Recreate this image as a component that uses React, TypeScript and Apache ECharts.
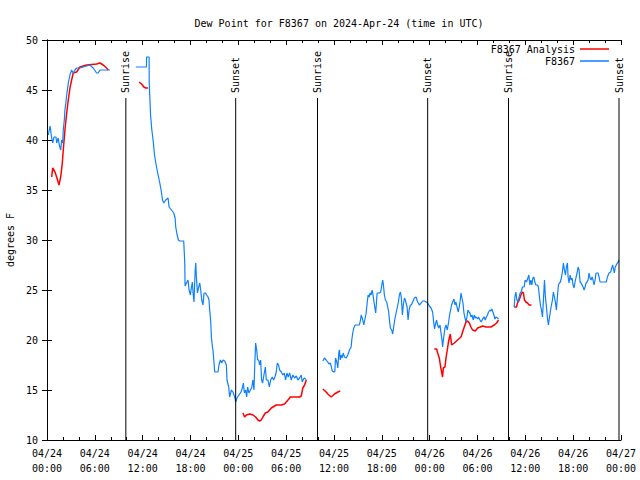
import React, { useEffect, useRef } from "react";
import * as echarts from "echarts";

// Time is in hours since 2024-04-24 00:00 UTC; values in degrees F.
const blueSeg1: [number, number][] = [
  [0.16, 40.5], [0.38, 41.4], [0.59, 40.2], [0.71, 39.7], [0.88, 40.3], [1.13, 40.3], [1.21, 39.7],
  [1.41, 40.2], [1.54, 39.5], [1.72, 39.0], [1.84, 40.0], [1.97, 39.7], [2.04, 41.0], [2.17, 42.0],
  [2.25, 43.0], [2.38, 43.8], [2.47, 44.5], [2.67, 45.7], [2.88, 46.5], [3.09, 47.0], [3.29, 46.7],
  [3.51, 47.0], [3.72, 47.2], [4.13, 47.2], [4.55, 47.3], [4.97, 47.4], [5.38, 47.5], [5.8, 47.2],
  [6.22, 46.7], [6.42, 46.7], [6.64, 47.0], [7.89, 47.0],
];
const blueSeg2: [number, number][] = [
  [11.14, 47.3], [12.48, 47.3], [12.49, 48.3], [12.81, 48.3], [12.82, 45.8], [12.99, 42.5], [13.15, 41.0],
  [13.31, 40.0], [13.49, 38.5], [13.65, 37.7], [13.81, 37.0], [13.99, 36.3], [14.15, 35.7], [14.31, 35.0],
  [14.49, 34.0], [14.65, 33.7], [14.9, 34.0], [15.19, 34.2], [15.31, 33.3], [15.61, 33.0], [15.9, 32.7],
  [16.07, 32.2], [16.15, 31.3], [16.32, 30.5], [16.49, 30.0], [16.65, 29.9], [17.15, 29.9], [17.28, 27.7],
  [17.32, 25.4], [17.49, 25.7], [17.69, 26.0], [17.82, 25.0], [17.99, 24.5], [18.12, 25.3], [18.24, 25.8],
  [18.32, 24.7], [18.44, 23.8], [18.57, 26.7], [18.66, 27.7], [18.74, 26.3], [18.87, 24.7], [19.03, 25.3],
  [19.16, 25.7], [19.28, 25.0], [19.41, 24.0], [19.57, 23.5], [19.7, 24.7], [19.87, 24.7], [20.03, 24.5],
  [20.2, 24.3], [20.32, 24.0], [20.41, 23.0], [20.54, 21.8], [20.62, 20.3], [20.75, 19.3], [20.82, 19.0],
  [21.04, 16.8], [21.45, 16.8], [21.57, 17.5], [21.75, 18.0], [21.91, 17.7], [22.08, 18.0], [22.29, 17.9],
  [22.5, 17.5], [22.58, 16.0], [22.79, 15.3], [22.91, 14.3], [23.13, 15.0], [23.33, 14.8], [23.54, 14.3],
  [23.67, 13.8], [23.83, 14.2], [24.08, 14.5], [24.33, 14.8], [24.51, 15.2], [24.63, 15.7], [24.76, 14.7],
  [24.92, 15.0], [25.04, 14.3], [25.17, 15.3], [25.33, 14.7], [25.51, 15.0], [25.67, 15.2], [25.83, 16.0],
  [25.96, 15.0], [26.05, 17.3], [26.17, 19.7], [26.3, 19.0], [26.42, 18.0], [26.55, 18.0], [26.67, 17.5],
  [26.8, 18.0], [26.92, 16.0], [27.05, 15.7], [27.21, 16.5], [27.39, 17.3], [27.51, 16.0], [27.71, 16.0],
  [27.89, 15.3], [28.05, 16.0], [28.26, 16.3], [28.42, 16.0], [28.59, 16.3], [28.76, 16.8], [28.89, 17.7],
  [29.05, 17.5], [29.18, 17.0], [29.39, 16.8], [29.59, 16.5], [29.76, 16.7], [29.93, 16.0], [30.09, 16.7],
  [30.26, 16.3], [30.43, 16.7], [30.64, 16.0], [30.84, 16.5], [31.05, 16.2], [31.27, 16.4], [31.47, 16.0],
  [31.68, 16.2], [31.89, 16.5], [32.02, 15.8], [32.18, 16.1], [32.34, 16.2], [32.52, 16.0],
];
const blueSeg3: [number, number][] = [
  [34.6, 17.9], [34.81, 18.2], [35.02, 18.0], [35.22, 17.8], [35.35, 17.6], [35.52, 17.7], [35.65, 17.4],
  [35.77, 16.9], [35.98, 16.8], [36.1, 16.8], [36.19, 18.2], [36.35, 17.8], [36.48, 17.2], [36.6, 18.7],
  [36.69, 19.0], [36.78, 18.0], [36.9, 18.5], [37.03, 18.2], [37.15, 18.7], [37.32, 18.3], [37.53, 18.2],
  [37.73, 18.5], [37.94, 19.0], [38.15, 19.3], [38.23, 20.0], [38.35, 20.7], [38.48, 21.2], [38.65, 21.5],
  [38.98, 21.5], [39.19, 21.5], [39.32, 22.0], [39.41, 22.5], [39.53, 22.2], [39.61, 22.0], [39.73, 21.5],
  [39.86, 22.0], [40.03, 22.7], [40.16, 23.7], [40.28, 24.5], [40.41, 24.3], [40.53, 24.7], [40.66, 24.5],
  [40.78, 25.0], [40.86, 24.7], [40.98, 24.0], [41.11, 23.3], [41.23, 22.7], [41.32, 23.7], [41.41, 24.7],
  [41.57, 24.7], [41.7, 24.7], [41.86, 24.8], [41.99, 25.5], [42.11, 26.0], [42.2, 25.5], [42.32, 24.5],
  [42.45, 24.0], [42.61, 23.8], [42.74, 23.3], [42.86, 22.8], [42.95, 22.0], [43.07, 21.2], [43.24, 21.0],
  [43.36, 20.6], [43.49, 21.3], [43.61, 22.0], [43.79, 22.7], [43.95, 23.3], [44.08, 23.8], [44.2, 24.5],
  [44.33, 24.8], [44.45, 24.2], [44.58, 22.5], [44.7, 23.5], [44.83, 24.2], [44.95, 24.0], [45.04, 23.7],
  [45.17, 23.3], [45.29, 22.0], [45.42, 23.0], [45.58, 23.5], [45.7, 23.5], [45.87, 23.8], [46.08, 24.2],
  [46.29, 24.3], [46.49, 23.8], [46.71, 23.5], [46.92, 23.7], [47.12, 23.9], [47.33, 23.9], [47.55, 23.8],
  [47.75, 23.7], [47.96, 23.4], [48.17, 23.2], [48.37, 22.8], [48.5, 21.8], [48.62, 21.1], [48.71, 21.5],
  [48.87, 22.0], [49.0, 21.5], [49.12, 21.2], [49.3, 21.5], [49.42, 20.7], [49.55, 20.0], [49.62, 19.3],
  [49.75, 20.2], [49.92, 21.2], [50.05, 21.5], [50.21, 21.0], [50.38, 21.8], [50.5, 22.5], [50.63, 23.0],
  [50.75, 23.5], [50.88, 23.8], [51.05, 24.1], [51.18, 23.5], [51.3, 23.8], [51.43, 23.3], [51.59, 22.8],
  [51.71, 23.3], [51.84, 24.0], [51.93, 24.7], [52.05, 24.2], [52.18, 23.7], [52.3, 22.7], [52.43, 22.2],
  [52.55, 21.8], [52.68, 22.3], [52.8, 23.0], [52.93, 22.8], [53.05, 22.7], [53.18, 22.3], [53.31, 22.5],
  [53.47, 22.0], [53.59, 22.5], [53.72, 22.2], [53.84, 22.3], [54.01, 22.1], [54.13, 22.3], [54.31, 22.0],
  [54.47, 21.8], [54.63, 22.1], [54.85, 22.3], [54.97, 22.0], [55.1, 22.3], [55.26, 22.5], [55.38, 22.8],
  [55.56, 23.0], [55.68, 22.9], [55.81, 23.1], [55.93, 22.8], [56.06, 22.5], [56.18, 22.1], [56.31, 22.3],
  [56.51, 22.2], [56.64, 22.1],
];
const blueSeg4: [number, number][] = [
  [58.6, 23.3], [58.69, 24.3], [58.81, 24.8], [58.94, 24.0], [59.06, 23.8], [59.23, 24.3], [59.35, 24.7],
  [59.48, 24.8], [59.64, 25.3], [59.85, 25.3], [59.98, 26.0], [60.14, 25.8], [60.32, 26.2], [60.44, 26.5],
  [60.57, 25.5], [60.69, 26.0], [60.82, 25.5], [60.94, 26.2], [61.07, 26.3], [61.19, 25.8], [61.32, 25.5],
  [61.52, 25.5], [61.64, 25.3], [61.77, 24.3], [61.89, 23.5], [62.02, 23.0], [62.15, 22.3], [62.27, 24.0],
  [62.4, 26.0], [62.52, 24.3], [62.65, 23.3], [62.77, 22.2], [62.9, 21.5], [62.98, 22.0], [63.11, 22.7],
  [63.23, 23.3], [63.4, 24.0], [63.52, 24.8], [63.65, 24.3], [63.77, 23.8], [63.9, 23.0], [64.02, 24.3],
  [64.15, 25.5], [64.27, 25.7], [64.4, 25.8], [64.52, 26.2], [64.65, 26.8], [64.78, 27.7], [64.9, 27.0],
  [65.03, 26.5], [65.15, 27.3], [65.28, 27.7], [65.36, 26.3], [65.49, 25.7], [65.61, 26.5], [65.74, 26.0],
  [65.86, 26.2], [65.99, 25.5], [66.11, 25.2], [66.24, 25.8], [66.37, 26.3], [66.49, 26.7], [66.62, 27.3],
  [66.74, 27.0], [66.87, 25.8], [66.99, 25.7], [67.12, 25.5], [67.24, 25.3], [67.37, 25.0], [67.49, 25.3],
  [67.62, 25.7], [67.74, 25.8], [67.87, 26.0], [67.99, 26.7], [68.12, 26.2], [68.24, 26.0], [68.37, 26.3],
  [68.49, 26.0], [68.62, 25.5], [68.75, 26.0], [68.87, 26.7], [69.0, 26.7], [69.12, 26.7], [69.25, 26.3],
  [69.37, 25.8], [70.0, 25.8], [70.16, 25.8], [70.29, 26.3], [70.5, 26.7], [70.71, 26.8], [70.83, 27.2],
  [70.96, 27.5], [71.09, 27.0], [71.16, 26.7], [71.29, 27.3], [71.41, 27.5], [71.54, 27.7], [71.66, 27.8],
  [71.75, 28.0],
];

const redSeg1: [number, number][] = [
  [0.59, 36.3], [0.71, 37.2], [1.0, 36.8], [1.21, 36.3], [1.5, 35.5], [1.72, 36.3], [1.92, 37.7],
  [2.04, 39.0], [2.25, 41.0], [2.47, 42.7], [2.67, 44.0], [2.88, 45.2], [3.09, 46.0], [3.29, 46.7],
  [3.72, 46.8], [4.13, 47.3], [4.97, 47.5], [6.22, 47.6], [6.64, 47.7], [7.05, 47.5], [7.48, 47.2],
  [7.68, 47.0],
];
const redSeg2: [number, number][] = [
  [11.56, 45.8], [11.86, 45.6], [12.15, 45.3], [12.4, 45.2], [12.68, 45.2],
];
const redSeg3: [number, number][] = [
  [24.58, 12.7], [24.79, 12.3], [25.01, 12.5], [25.42, 12.6], [25.83, 12.5], [26.17, 12.3], [26.46, 12.0],
  [26.67, 11.9], [26.88, 12.0], [27.08, 12.3], [27.39, 12.7], [27.71, 12.8], [28.14, 13.2], [28.55, 13.4],
  [28.76, 13.5], [29.39, 13.5], [29.8, 13.6], [30.01, 13.8], [30.34, 14.1], [30.51, 14.3], [31.27, 14.3],
  [31.68, 14.3], [31.89, 14.4], [32.09, 15.2], [32.31, 15.5], [32.52, 16.0],
];
const redSeg4: [number, number][] = [
  [34.6, 15.1], [35.02, 14.8], [35.22, 14.6], [35.65, 14.3], [36.06, 14.6], [36.48, 14.8], [36.78, 14.9],
];
const redSeg5: [number, number][] = [
  [48.58, 19.1], [48.87, 19.1], [49.0, 18.7], [49.21, 18.2], [49.34, 17.5], [49.5, 16.8], [49.62, 16.3],
  [49.71, 17.2], [49.92, 17.3], [50.05, 18.2], [50.21, 19.0], [50.34, 19.7], [50.46, 20.2], [50.59, 20.6],
  [50.68, 20.0], [50.75, 19.5], [51.09, 19.7], [51.5, 20.0], [51.93, 20.3], [52.13, 20.8], [52.34, 21.3],
  [52.55, 21.8], [52.76, 21.9], [52.97, 21.7], [53.18, 21.3], [53.38, 21.0], [53.72, 20.9], [54.01, 21.2],
  [54.35, 21.3], [54.63, 21.4], [55.06, 21.3], [55.68, 21.3], [56.1, 21.5], [56.39, 21.7], [56.64, 22.0],
];
const redSeg6: [number, number][] = [
  [58.6, 23.3], [58.89, 23.3], [59.01, 23.7], [59.23, 24.0], [59.44, 24.5], [59.64, 24.8], [59.77, 24.7],
  [59.89, 24.0], [60.07, 23.8], [60.27, 23.7], [60.48, 23.5], [60.77, 23.5],
];

const sunTimes = [9.89, 23.67, 33.93, 47.75, 57.89, 71.75];
const sunLabels = ["Sunrise", "Sunset", "Sunrise", "Sunset", "Sunrise", "Sunset"];

const TITLE = "Dew Point for F8367 on 2024-Apr-24 (time in UTC)";
const Y_NAME = "degrees F";
const SERIES_RED = "F8367 Analysis";
const SERIES_BLUE = "F8367";
const DAY_LABELS = ["04/24", "04/25", "04/26", "04/27"];

const FONT = '"DejaVu Sans Mono", monospace';
const SUN_LINE_TOP = 44.2;

function joinSegments(segs: [number, number][][]): any[] {
  const out: any[] = [];
  segs.forEach((s, i) => {
    if (i > 0) out.push([s[0][0] - 0.01, "-"]);
    s.forEach((p) => out.push(p));
  });
  return out;
}

function xLabel(v: number): string {
  const day = Math.floor(v / 24);
  const hh = Math.round(v - day * 24);
  return `${DAY_LABELS[day]}\n${hh < 10 ? "0" + hh : hh}:00`;
}

export default function App() {
  const ref = useRef<HTMLDivElement>(null);
  useEffect(() => {
    if (!ref.current) return;
    const chart = echarts.init(ref.current, undefined, { renderer: "svg" });
    const axisLine = { show: true, lineStyle: { color: "#000", width: 1 } };
    const xCommon = {
      type: "value" as const,
      min: 0,
      max: 72,
      interval: 6,
      axisLine,
      axisTick: { show: true, inside: true, length: 5, lineStyle: { color: "#000" } },
      minorTick: { show: true, splitNumber: 3, length: 3, lineStyle: { color: "#000" } },
      splitLine: { show: false },
      minorSplitLine: { show: false },
    };
    const yCommon = {
      type: "value" as const,
      min: 10,
      max: 50,
      interval: 5,
      axisLine,
      axisTick: { show: true, inside: true, length: 5, lineStyle: { color: "#000" } },
      splitLine: { show: false },
    };
    chart.setOption({
      animation: false,
      backgroundColor: "#fff",
      textStyle: { fontFamily: FONT, color: "#000" },
      title: {
        text: TITLE,
        left: 334,
        top: 13,
        textAlign: "center",
        textStyle: { fontFamily: FONT, fontSize: 10, fontWeight: "normal", color: "#000" },
      },
      grid: {
        left: 47,
        right: 19,
        top: 40,
        bottom: 40,
        containLabel: false,
        outerBoundsMode: "none",
      },
      legend: [
        {
          data: [SERIES_RED],
          right: 31,
          top: 44,
          padding: 0,
          align: "right",
          icon: "rect",
          itemWidth: 29,
          itemHeight: 1.5,
          textStyle: { fontFamily: FONT, fontSize: 10, color: "#000" },
        },
        {
          data: [SERIES_BLUE],
          right: 31,
          top: 56,
          padding: 0,
          align: "right",
          icon: "rect",
          itemWidth: 29,
          itemHeight: 1.5,
          textStyle: { fontFamily: FONT, fontSize: 10, color: "#000" },
        },
      ],
      xAxis: [
        {
          ...xCommon,
          position: "bottom",
          axisLabel: {
            formatter: xLabel,
            fontFamily: FONT,
            fontSize: 10,
            color: "#000",
            lineHeight: 15,
            margin: 6,
          },
        },
        { ...xCommon, position: "top", axisLabel: { show: false } },
      ],
      yAxis: [
        {
          ...yCommon,
          position: "left",
          name: Y_NAME,
          nameLocation: "middle",
          nameGap: 31,
          nameRotate: 90,
          nameTextStyle: { fontFamily: FONT, fontSize: 10, color: "#000" },
          axisLabel: { fontFamily: FONT, fontSize: 10, color: "#000", margin: 9 },
        },
        { ...yCommon, position: "right", axisLabel: { show: false } },
      ],
      series: [
        {
          name: SERIES_RED,
          type: "line",
          showSymbol: false,
          symbol: "none",
          color: "#ff0000",
          lineStyle: { color: "#ff0000", width: 1.5 },
          data: joinSegments([redSeg1, redSeg2, redSeg3, redSeg4, redSeg5, redSeg6]),
          z: 3,
        },
        {
          name: SERIES_BLUE,
          type: "line",
          showSymbol: false,
          symbol: "none",
          color: "#0d80ff",
          lineStyle: { color: "#0d80ff", width: 1.2 },
          data: joinSegments([blueSeg1, blueSeg2, blueSeg3, blueSeg4]),
          z: 4,
        },
        {
          name: "sun",
          type: "custom",
          clip: false,
          silent: true,
          data: sunTimes.map((t, i) => [t, i]),
          encode: { x: 0 },
          renderItem: (params: any, api: any) => {
            const t = api.value(0);
            const i = api.value(1);
            const bottom = api.coord([t, 10]);
            const top = api.coord([t, SUN_LINE_TOP]);
            return {
              type: "group",
              children: [
                {
                  type: "line",
                  shape: { x1: bottom[0], y1: bottom[1], x2: top[0], y2: top[1] },
                  style: { stroke: "#000", lineWidth: 1 },
                },
                {
                  type: "text",
                  x: top[0],
                  y: top[1] - 5,
                  rotation: Math.PI / 2,
                  style: {
                    text: sunLabels[i],
                    font: `10px ${FONT}`,
                    fill: "#000",
                    align: "left",
                    verticalAlign: "middle",
                  },
                },
              ],
            };
          },
          z: 5,
        },
      ],
    });
    return () => chart.dispose();
  }, []);
  return (
    <div
      ref={ref}
      style={{ position: "fixed", left: 0, top: 0, width: 640, height: 480, background: "#fff" }}
    />
  );
}
